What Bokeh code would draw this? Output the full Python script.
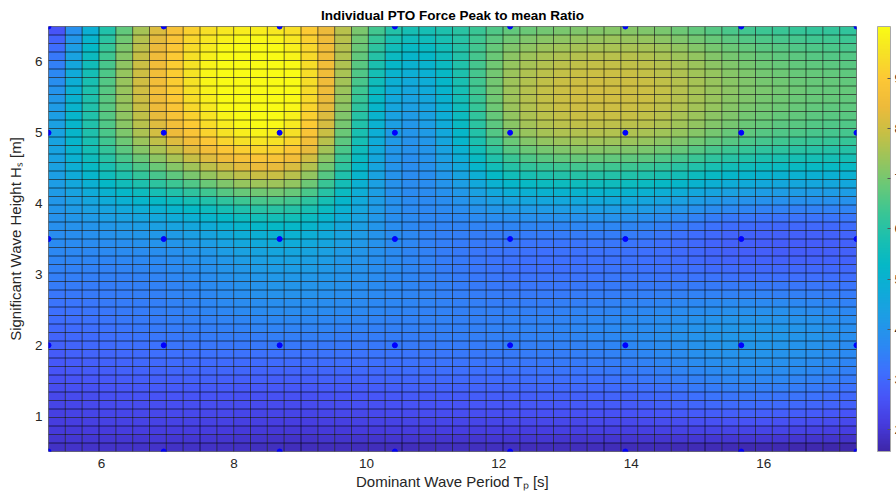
import numpy as np
from bokeh.plotting import figure
from bokeh.models import (LinearColorMapper, ColorBar, FixedTicker,
                          Range1d, ColumnDataSource)
from bokeh.embed import file_html
from bokeh.resources import INLINE

# ---------------- data ----------------
tp = [5.2, 6.94, 8.69, 10.43, 12.17, 13.91, 15.66, 17.4]      # dominant wave period [s]
hs = [0.5, 2.0, 3.5, 5.0, 6.5]                                 # significant wave height [m]
ratio_hs050 = [1.9, 1.9, 1.8, 1.8, 1.8, 1.75, 1.7, 1.6]
ratio_hs200 = [2.9, 3.3, 3.4, 3.4, 3.5, 3.7, 4.1, 3.7]
ratio_hs350 = [3.8, 4.2, 5.0, 3.7, 3.4, 3.4, 2.9, 3.0]
ratio_hs500 = [4.4, 8.5, 9.7, 4.1, 7.3, 7.7, 6.8, 6.5]
ratio_hs650 = [2.4, 8.5, 9.3, 6.0, 6.6, 6.9, 6.2, 6.0]
color_limits = [1.57, 10.03]
x_ticks = [6, 8, 10, 12, 14, 16]
y_ticks = [1, 2, 3, 4, 5, 6]
cbar_ticks = [2, 3, 4, 5, 6, 7, 8, 9]

# ---------------- display mesh (cubic-convolution surface, like interp2 'cubic') ----------------
N_TP_MESH = 49
N_HS_MESH = 51


def keys_kernel(d, a=-0.5):
    d = np.abs(d)
    out = np.zeros_like(d)
    m1 = d <= 1
    m2 = (d > 1) & (d < 2)
    out[m1] = (a + 2) * d[m1] ** 3 - (a + 3) * d[m1] ** 2 + 1
    out[m2] = a * d[m2] ** 3 - 5 * a * d[m2] ** 2 + 8 * a * d[m2] - 4 * a
    return out


def cubic_conv_weights(xn, xq):
    """Weights of cubic-convolution interpolation on the uniform nodes xn, at xq."""
    xn = np.asarray(xn, float)
    xq = np.asarray(xq, float)
    n = len(xn)
    step = (xn[-1] - xn[0]) / (n - 1)
    E = np.zeros((n + 2, n))
    E[1:n + 1] = np.eye(n)
    E[0, 0:3] = [3, -3, 1]
    E[n + 1, n - 1], E[n + 1, n - 2], E[n + 1, n - 3] = 3, -3, 1
    u = (xq - xn[0]) / step
    k = np.clip(np.floor(u).astype(int), 0, n - 2)
    s = u - k
    Wext = np.zeros((len(xq), n + 2))
    rows = np.arange(len(xq))
    for m, dist in enumerate((1 + s, s, 1 - s, 2 - s)):
        Wext[rows, k + m] += keys_kernel(dist)
    return Wext @ E


V = np.array([ratio_hs050, ratio_hs200, ratio_hs350, ratio_hs500, ratio_hs650])
xq = np.linspace(tp[0], tp[-1], N_TP_MESH)
yq = np.linspace(hs[0], hs[-1], N_HS_MESH)
Vq = cubic_conv_weights(hs, yq) @ V @ cubic_conv_weights(tp, xq).T

nr, nc = N_HS_MESH - 1, N_TP_MESH - 1
cells = ColumnDataSource(dict(
    left=np.tile(xq[:-1], nr), right=np.tile(xq[1:], nr),
    bottom=np.repeat(yq[:-1], nc), top=np.repeat(yq[1:], nc),
    val=Vq[:-1, :-1].ravel()))

# ---------------- parula-like palette ----------------
PARULA_ANCHORS = [
    (0.000, 0.2422, 0.1504, 0.6603),
    (0.063, 0.2730, 0.2330, 0.8680),
    (0.125, 0.2800, 0.3300, 0.9700),
    (0.188, 0.2400, 0.4400, 0.9950),
    (0.250, 0.1700, 0.5400, 0.9500),
    (0.313, 0.1200, 0.6100, 0.9000),
    (0.375, 0.0600, 0.6700, 0.8500),
    (0.438, 0.0200, 0.7200, 0.7800),
    (0.500, 0.1000, 0.7500, 0.6900),
    (0.563, 0.2300, 0.7750, 0.5800),
    (0.625, 0.4100, 0.7850, 0.4700),
    (0.688, 0.6000, 0.7700, 0.3600),
    (0.750, 0.7800, 0.7500, 0.2700),
    (0.813, 0.9300, 0.7300, 0.2300),
    (0.875, 0.9900, 0.7800, 0.2100),
    (0.938, 0.9650, 0.8800, 0.1500),
    (1.000, 0.9769, 0.9839, 0.0805),
]
_a = np.array(PARULA_ANCHORS)
_t = np.linspace(0, 1, 256)
palette = ["#%02x%02x%02x" % tuple(int(round(255 * np.interp(tt, _a[:, 0], _a[:, c])))
                                   for c in (1, 2, 3)) for tt in _t]
mapper = LinearColorMapper(palette=palette, low=color_limits[0], high=color_limits[1])

# ---------------- figure ----------------
FONT = "Liberation Sans"
p = figure(width=896, height=495, output_backend="svg", toolbar_location=None,
           x_range=Range1d(tp[0], tp[-1]), y_range=Range1d(hs[0], hs[-1]),
           min_border_left=48, min_border_right=40, min_border_top=26,
           min_border_bottom=44, background_fill_color="white",
           border_fill_color="white")
p.grid.visible = False
p.outline_line_color = "#a8a8a8"
p.outline_line_width = 1

p.title.text = "Individual PTO Force Peak to mean Ratio"
p.title.align = "center"
p.title.text_font = FONT
p.title.text_font_size = "13.5px"
p.title.text_font_style = "bold"
p.title.text_color = "#000000"
p.title.standoff = 8

for ax in (p.xaxis[0], p.yaxis[0]):
    ax.axis_line_color = None
    ax.major_tick_line_color = None
    ax.minor_tick_line_color = None
    ax.major_label_text_font = FONT
    ax.major_label_text_font_size = "13.5px"
    ax.major_label_text_color = "#262626"
    ax.major_tick_out = 0
    ax.major_tick_in = 0
    ax.axis_label_text_font = FONT
    ax.axis_label_text_font_size = "15px"
    ax.axis_label_text_font_style = "normal"
    ax.axis_label_text_color = "#262626"
p.xaxis.ticker = FixedTicker(ticks=x_ticks)
p.yaxis.ticker = FixedTicker(ticks=y_ticks)
p.xaxis.major_label_standoff = 7
p.yaxis.major_label_standoff = 6
p.xaxis.axis_label = "Dominant Wave Period T\u209a [s]"
p.yaxis.axis_label = "Significant Wave Height H\u209b [m]"
p.xaxis.axis_label_standoff = 2
p.yaxis.axis_label_standoff = 8

# surface faces
p.quad(left="left", right="right", bottom="bottom", top="top", source=cells,
       fill_color={"field": "val", "transform": mapper}, line_color=None)

# mesh edges
p.segment(x0=xq, y0=[hs[0]] * len(xq), x1=xq, y1=[hs[-1]] * len(xq),
          line_color="black", line_alpha=0.6, line_width=1)
p.segment(x0=[tp[0]] * len(yq), y0=yq, x1=[tp[-1]] * len(yq), y1=yq,
          line_color="black", line_alpha=0.6, line_width=1)

# measured points
PX, PY = np.meshgrid(tp, hs)
p.scatter(PX.ravel(), PY.ravel(), size=5, fill_color="#0000ff", line_color="#0000ff")

# colorbar (right of the axes, partly cut by the window edge like the original)
cb = ColorBar(color_mapper=mapper, location=(829, 0), width=13, height=425,
              padding=0, ticker=FixedTicker(ticks=cbar_ticks),
              major_label_text_font=FONT, major_label_text_font_size="13.5px",
              major_label_text_color="#262626", label_standoff=4,
              major_tick_in=3, major_tick_out=0, major_tick_line_color="#555555",
              minor_tick_line_color=None, bar_line_color="#a8a8a8",
              border_line_color=None, background_fill_alpha=0)
p.add_layout(cb, "center")

open("out.html", "w").write(file_html(p, INLINE))
